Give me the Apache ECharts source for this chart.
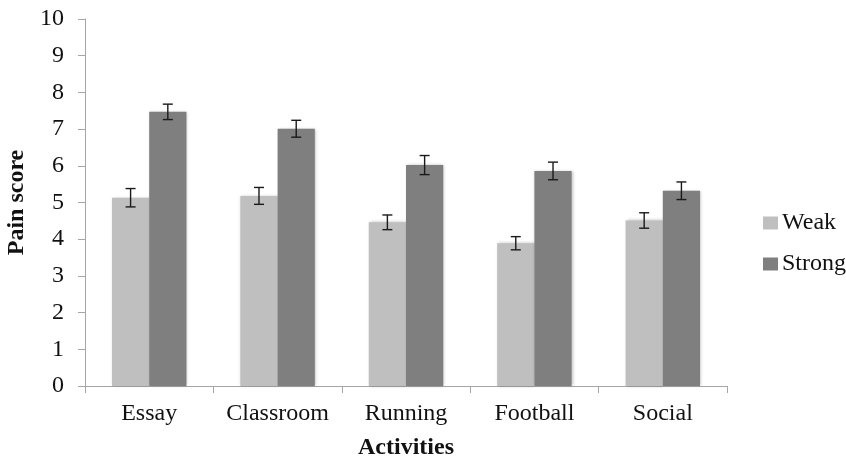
<!DOCTYPE html>
<html>
<head>
<meta charset="utf-8">
<script src="https://cdn.jsdelivr.net/npm/echarts@6/dist/echarts.min.js"></script>
<style>html,body{margin:0;padding:0;background:#fff;}#c{width:846px;height:461px;}</style>
</head>
<body>
<div id="c"></div>
<script>
var categories = ['Essay', 'Classroom', 'Running', 'Football', 'Social'];
var weakValues = [5.13, 5.18, 4.46, 3.89, 4.51];
var weakErrors = [0.25, 0.23, 0.2, 0.18, 0.21];
var strongValues = [7.47, 7.01, 6.02, 5.86, 5.32];
var strongErrors = [0.21, 0.23, 0.26, 0.24, 0.24];
var yTicks = [0, 1, 2, 3, 4, 5, 6, 7, 8, 9, 10];

var FONT = '"Liberation Serif", "Times New Roman", serif';
var BAND_OFFSET = 0.145;

function errorSeries(name, values, errors, side) {
  return {
    type: 'custom',
    name: name + ' error',
    z: 10,
    silent: true,
    data: values.map(function (v, i) { return [i, v - errors[i], v + errors[i]]; }),
    renderItem: function (params, api) {
      var band = api.size([1, 0])[0];
      var lo = api.coord([api.value(0), api.value(1)]);
      var hi = api.coord([api.value(0), api.value(2)]);
      var x = lo[0] + side * band * BAND_OFFSET;
      var cap = 5;
      var style = { stroke: '#1a1a1a', lineWidth: 1.4 };
      return {
        type: 'group',
        children: [
          { type: 'line', shape: { x1: x, y1: lo[1], x2: x, y2: hi[1] }, style: style },
          { type: 'line', shape: { x1: x - cap, y1: lo[1], x2: x + cap, y2: lo[1] }, style: style },
          { type: 'line', shape: { x1: x - cap, y1: hi[1], x2: x + cap, y2: hi[1] }, style: style }
        ]
      };
    }
  };
}

var chart = echarts.init(document.getElementById('c'), null, { renderer: 'canvas' });
chart.setOption({
  animation: false,
  backgroundColor: '#ffffff',
  textStyle: { fontFamily: FONT },
  grid: { left: 85, right: 119, top: 19, bottom: 75, containLabel: false, outerBoundsMode: 'none' },
  legend: {
    orient: 'vertical',
    left: 763,
    top: 211,
    padding: 0,
    itemWidth: 15,
    itemHeight: 13,
    itemGap: 17,
    icon: 'rect',
    data: ['Weak', 'Strong'],
    textStyle: { fontFamily: FONT, fontSize: 24, color: '#111', lineHeight: 24, padding: [0, 0, 0, -1] }
  },
  xAxis: {
    type: 'category',
    data: categories,
    name: 'Activities',
    nameLocation: 'middle',
    nameGap: 50,
    nameTextStyle: { fontFamily: FONT, fontSize: 24, fontWeight: 'bold', color: '#111' },
    axisLine: { lineStyle: { color: '#a6a6a6', width: 1 } },
    axisTick: { show: true, alignWithLabel: false, interval: 0, length: 7, lineStyle: { color: '#a6a6a6' } },
    axisLabel: { fontFamily: FONT, fontSize: 24, color: '#111', margin: 16, interval: 0, hideOverlap: false }
  },
  yAxis: {
    type: 'value',
    min: yTicks[0],
    max: yTicks[yTicks.length - 1],
    interval: 1,
    name: 'Pain score',
    nameLocation: 'middle',
    nameGap: 53,
    nameRotate: 90,
    nameTextStyle: { fontFamily: FONT, fontSize: 24, fontWeight: 'bold', color: '#111' },
    axisLine: { show: true, lineStyle: { color: '#a6a6a6', width: 1 } },
    axisTick: { show: true, length: 7, lineStyle: { color: '#a6a6a6' } },
    splitLine: { show: false },
    axisLabel: { fontFamily: FONT, fontSize: 24, color: '#111', margin: 21 }
  },
  series: [
    {
      type: 'bar',
      name: 'Weak',
      data: weakValues,
      barGap: '0%',
      barCategoryGap: '42%',
      itemStyle: { color: '#bfbfbf', shadowBlur: 3, shadowColor: 'rgba(0,0,0,0.25)', shadowOffsetX: 1, shadowOffsetY: 0 }
    },
    {
      type: 'bar',
      name: 'Strong',
      data: strongValues,
      barGap: '0%',
      barCategoryGap: '42%',
      itemStyle: { color: '#7f7f7f', shadowBlur: 3, shadowColor: 'rgba(0,0,0,0.25)', shadowOffsetX: 1, shadowOffsetY: 0 }
    },
    errorSeries('Weak', weakValues, weakErrors, -1),
    errorSeries('Strong', strongValues, strongErrors, 1)
  ]
});
</script>
</body>
</html>
